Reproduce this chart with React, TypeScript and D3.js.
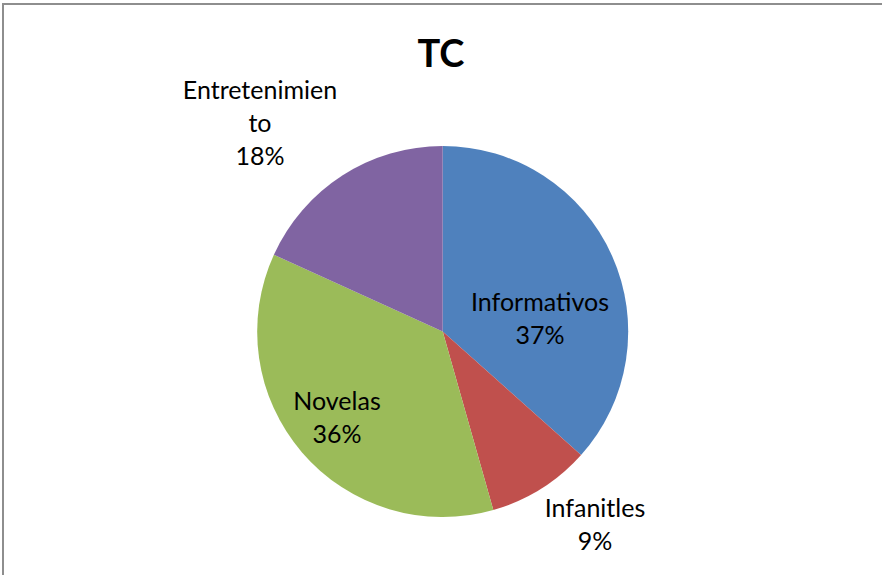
import React from "react";
import * as d3 from "d3";

const categories = ["Informativos", "Infanitles", "Novelas", "Entretenimiento"];
const values = [36.6, 9.0, 36.2, 18.2];
const nameLines = [["Informativos"], ["Infanitles"], ["Novelas"], ["Entretenimien", "to"]];
const colors = ["#4F81BD", "#C0504D", "#9BBB59", "#8064A2"];
const title = "TC";

// label anchor (x center, first baseline) in layout space
const labelPos: [number, number][] = [[540, 310.7], [595, 517], [337, 410], [260, 99.3]];

const W = 882, H = 575;
const cx = 442.7, cy = 331.5, R = 185.5;
const FONT = "Lato, 'Open Sans', sans-serif";

export default function App() {
  const pie = d3.pie<number>().sort(null).value((d) => d);
  const arcs = pie(values);
  const arc = d3.arc<d3.PieArcDatum<number>>().innerRadius(0).outerRadius(R);
  const total = d3.sum(values);
  return (
    <div style={{ position: "absolute", left: 0, top: 0 }}>
      <svg width={W} height={H} style={{ display: "block" }}>
        <rect x={0} y={0} width={W} height={H} fill="#ffffff" />
        <rect x={3} y={4} width={W + 20} height={H + 20} fill="none" stroke="#8e8e8e" strokeWidth={2} />
        <text x={441} y={67.3} textAnchor="middle" fontFamily={FONT} fontWeight="bold" fontSize={38} fill="#000">{title}</text>
        <g transform={`translate(${cx},${cy})`}>
          {arcs.map((a, i) => (
            <path key={categories[i]} d={arc(a) || ""} fill={colors[i]} />
          ))}
        </g>
        {nameLines.map((lines, i) => {
          const all = [...lines, `${Math.round((values[i] / total) * 100)}%`];
          return (
            <text key={categories[i]} textAnchor="middle" fontFamily={FONT} fontSize={25} fill="#000">
              {all.map((l, j) => (
                <tspan key={j} x={labelPos[i][0]} y={labelPos[i][1] + j * 33}>{l}</tspan>
              ))}
            </text>
          );
        })}
      </svg>
    </div>
  );
}
